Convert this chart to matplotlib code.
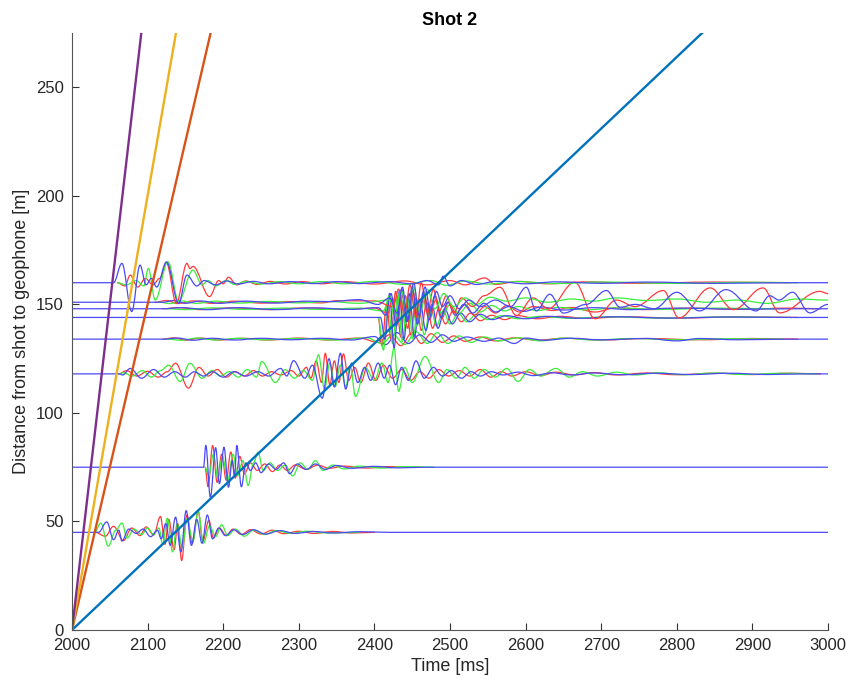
import matplotlib
matplotlib.use('Agg')
import matplotlib.pyplot as plt
from matplotlib.path import Path
from matplotlib.patches import PathPatch

plt.rcParams['font.family'] = ['Liberation Sans', 'DejaVu Sans']

# time window [ms] and geophone offsets [m]
t_start, t_end = 2000, 3000
levels = [45, 75, 118, 134, 144, 148, 151, 160]

# straight move-out lines, velocities in m/s
velocities = [330, 1500, 2000, 3000]
vel_colors = ['#0072BD', '#D95319', '#EDB120', '#7E2F8E']

# wiggle traces: (time [ms], deflection from trace offset [m]) at the turning points
w45_r = [(2031, 0), (2044, -1.8), (2055, 2.8), (2068, -3.8), (2079, 2.0), (2090, -1.5), (2098, 2.5), (2108, -1.2),
         (2117, 7.3), (2123, -5.5), (2128, 6), (2135, -8), (2140, 4), (2145, -13), (2152, 8), (2159, -5), (2167, 9.5),
         (2173, -4), (2181, 5.5), (2187, -2.5), (2195, 2), (2204, -1.5), (2213, 1.5), (2224, -1.0), (2236, 1.2),
         (2250, -0.8), (2265, 1.0), (2280, -0.6), (2300, 0.5), (2320, -0.5), (2345, 0.4), (2370, -0.3), (2400, 0)]
w45_g = [(2030, 0), (2038, 4.3), (2048, -6.4), (2058, 1), (2066, 4.3), (2073, -2.6), (2082, 1.5), (2092, -1),
         (2100, 2), (2108, -1), (2115, 2), (2120, -5.7), (2126, 6.5), (2133, -9), (2139, 4), (2146, -7), (2152, 6),
         (2160, -4), (2167, 9.7), (2174, -5), (2182, 3), (2190, -2), (2198, 3.5), (2206, -1.5), (2216, 1.5),
         (2228, -1.8), (2240, 1), (2255, -1), (2270, 0.8), (2290, -0.5), (2310, 0.5), (2340, -0.3), (2380, 0)]
w45_b = [(2035, 0), (2046, 4.8), (2055, -3.4), (2062, 1), (2066, -4), (2075, 1.5), (2085, -0.5), (2094, 1.5),
         (2104, -2), (2113, 1), (2118, -3), (2124, 4), (2130, -6), (2137, 7), (2144, -9), (2151, 10), (2158, -6),
         (2165, 6), (2172, -5), (2179, 8), (2186, -3), (2194, 2), (2203, -1.5), (2214, 1.2), (2226, -1), (2240, 1.2),
         (2256, -0.8), (2275, 0.8), (2295, -0.5), (2320, 0.4), (2345, -0.3), (2380, 0.3), (2420, 0)]

w75_r = [(2176, 0), (2180, -9), (2186, 10), (2192, -7), (2198, 6), (2204, -6), (2210, 7), (2216, -5), (2222, 5),
         (2228, -3), (2236, 2), (2245, -1.5), (2255, 1.5), (2265, -2), (2275, 1), (2285, -1.5), (2295, 1),
         (2310, -1), (2325, 1), (2340, -0.5), (2360, 0.5), (2390, -0.4), (2420, 0.3), (2460, 0)]
w75_g = [(2176, 0), (2181, -4), (2187, 6), (2193, -5), (2199, 5), (2206, -6), (2213, 6), (2219, -4), (2226, 3),
         (2233, -8.4), (2240, 2), (2246, 6.9), (2253, -1.5), (2262, 2), (2272, -1.5), (2282, 1), (2292, -4),
         (2302, 2), (2312, -1), (2322, 3), (2332, -1.5), (2345, 1), (2360, -0.8), (2380, 0.5), (2410, -0.4),
         (2440, 0.3), (2480, 0)]
w75_b = [(2174, 0), (2177, 10), (2183, -13.8), (2190, 9), (2195, -7.6), (2201, 9.2), (2207, -9.2), (2212, 3),
         (2215, -4), (2218, 10), (2224, -9), (2230, 2), (2236, -1.5), (2243, 2), (2250, -2.5), (2260, 1.5),
         (2270, -1), (2280, 2), (2288, -3), (2298, 1.5), (2310, -1), (2322, 1.5), (2335, -1), (2350, 0.8),
         (2370, -0.5), (2400, 0.4), (2430, -0.3), (2470, 0)]

w118_r = [(2062, 0), (2072, 1.5), (2086, -1), (2100, 1.2), (2114, -1.5), (2126, 1), (2137, 4.9), (2154, -6.6),
          (2168, 3), (2180, -1), (2192, 2), (2204, -1.5), (2216, 1), (2228, -1), (2240, 1.5), (2252, -1), (2264, 1),
          (2276, -0.5), (2290, 1.5), (2300, -1), (2310, 3), (2316, -2), (2323, 6), (2330, -4), (2335, 9.5),
          (2341, -5), (2347, 6), (2353, -4), (2359, 9.2), (2366, -3), (2374, 3), (2382, -4), (2392, 5), (2402, -3),
          (2412, 4), (2424, -2), (2436, 2), (2448, -3), (2460, 1), (2472, -2), (2485, 2), (2498, -1), (2512, 1.5),
          (2526, -1), (2540, 2), (2554, -1.5), (2568, 1), (2582, -1), (2600, 1), (2620, -0.8), (2640, 0.8),
          (2665, -0.5), (2690, 0.6), (2720, -0.5), (2760, 0.4), (2800, -0.4), (2850, 0.3), (2900, -0.3),
          (2950, 0.3), (2990, 0)]
w118_g = [(2062, 0), (2068, 0.5), (2080, -1), (2093, 1.5), (2105, -1.5), (2117, 1.5), (2128, 4), (2143, -3.5),
          (2156, 4.9), (2172, -2), (2185, 1.5), (2196, -1), (2208, 1), (2220, -1.5), (2232, 2), (2244, -1.5),
          (2251, 5.7), (2269, -4), (2282, 2), (2294, -2), (2306, 1.5), (2318, -3), (2326, 8.8), (2334, -7),
          (2341, 5), (2348, -6), (2355, 4), (2362, -6), (2368, 4), (2375, -10.4), (2388, 3), (2400, -3), (2410, 5),
          (2418, -4), (2426, 12), (2432, -8), (2440, 3), (2450, -4), (2467, 8), (2485, -4), (2496, 2), (2508, -2),
          (2520, 3), (2532, -2), (2545, 2), (2560, -1.5), (2575, 2.5), (2590, -3.5), (2605, 2), (2620, -1),
          (2640, 2.5), (2658, -1.5), (2675, 1), (2695, -1), (2720, 0.8), (2745, -0.5), (2775, 0.5), (2810, -0.4),
          (2850, 0.4), (2890, -0.3), (2940, 0.3), (2985, 0)]
w118_b = [(2062, 0), (2067, -0.5), (2077, 2.5), (2092, -2), (2108, 2), (2122, -1.5), (2136, 1), (2150, -1.5),
          (2162, 1), (2174, -1), (2186, 1), (2200, -1.5), (2214, 1), (2230, -1), (2246, 1), (2260, -1), (2276, 2.5),
          (2284, -1), (2293, 6.1), (2308, -2), (2318, 4), (2331, -11.2), (2340, 7), (2347, -6), (2355, 9.5),
          (2362, -7), (2370, 5), (2378, -4), (2387, 3), (2395, -3), (2405, 5), (2413, -2), (2420, 4), (2428, -5),
          (2436, 3), (2445, -3), (2455, 6), (2466, -2), (2478, 3), (2490, -1), (2502, 1.5), (2515, -2), (2528, 1),
          (2540, -1), (2555, 1), (2570, -0.5), (2590, 0.8), (2610, -0.8), (2635, 0.5), (2660, -0.5), (2690, 0.4),
          (2730, -0.4), (2770, 0.3), (2820, -0.3), (2870, 0.3), (2920, -0.3), (2970, 0)]

w134_r = [(2120, 0), (2135, 0.6), (2150, -0.5), (2170, 0.5), (2195, -0.4), (2225, 0.4), (2260, -0.4), (2300, 0.5),
          (2340, -0.4), (2380, 0.5), (2405, -1.5), (2420, 2), (2435, -3), (2450, 3), (2462, -2), (2475, 2.5),
          (2490, -1.5), (2505, 1.5), (2520, -1), (2540, 1), (2560, -0.8), (2585, 0.6), (2615, -0.5), (2650, 0.4),
          (2700, -0.4), (2760, 0.3), (2830, -0.3), (2900, 0.3), (2960, 0)]
w134_g = [(2125, 0), (2145, -0.5), (2165, 0.5), (2190, -0.4), (2220, 0.4), (2255, -0.3), (2300, 0.3), (2350, -0.4),
          (2390, 0.6), (2410, -2), (2425, 2), (2440, -2.5), (2455, 3.5), (2470, -2), (2483, 3), (2497, -2),
          (2512, 1.5), (2528, -1.5), (2545, 1), (2565, -0.8), (2590, 0.6), (2620, -0.8), (2650, 0.5), (2690, -0.4),
          (2740, 0.3), (2800, -0.3), (2870, 0.2), (2940, 0)]
w134_b = [(2120, 0), (2140, 0.5), (2160, -0.5), (2185, 0.4), (2215, -0.4), (2250, 0.4), (2290, -0.3), (2330, 0.4),
          (2370, -0.4), (2400, 1.2), (2415, -2.5), (2430, 3), (2445, -2), (2460, 2), (2475, -1.5), (2490, 2),
          (2505, -1), (2522, 1), (2545, -1), (2565, 0.5), (2585, -2), (2600, 0.5), (2625, -0.5), (2660, 0.4),
          (2700, -0.3), (2760, 0.3), (2800, -0.8), (2830, 0.3), (2880, -0.3), (2950, 0)]

w144_r = [(2405, 0), (2410, -13), (2416, 6), (2422, -10), (2428, 12), (2435, -9), (2441, 10), (2448, -8), (2455, 9),
          (2462, -6), (2469, 7), (2477, -5), (2485, 4), (2494, -3), (2504, 3), (2515, -2), (2527, 2), (2540, -1.5),
          (2555, 1), (2572, -1), (2590, 0.8), (2615, -0.6), (2645, 0.5), (2680, -0.4), (2730, 0.3), (2800, -0.3),
          (2880, 0.2), (2960, 0)]
w144_g = [(2405, 0), (2412, -15), (2418, 8), (2424, -12), (2431, 10), (2437, -11), (2444, 9), (2451, -10),
          (2458, 7), (2466, -8), (2474, 5), (2482, -4), (2491, 3), (2500, -3), (2511, 2), (2522, -2), (2535, 1.5),
          (2550, -1), (2568, 0.8), (2590, -0.6), (2620, 0.5), (2660, -0.4), (2710, 0.3), (2780, -0.3), (2860, 0.2),
          (2950, 0)]
w144_b = [(2408, 0), (2414, -10), (2420, 11), (2426, -14), (2433, 12), (2439, -10), (2446, 11), (2453, -9),
          (2460, 8), (2468, -6), (2476, 6), (2484, -5), (2493, 4), (2503, -3), (2514, 2), (2526, -2), (2540, 1.5),
          (2556, -1), (2575, 0.8), (2600, -0.6), (2630, 0.5), (2670, -0.4), (2720, 0.3), (2790, -0.3), (2870, 0.2),
          (2950, 0)]

w148_r = [(2120, 0), (2140, 0.5), (2170, -0.4), (2210, 0.4), (2260, -0.4), (2310, 0.4), (2360, -0.3), (2400, 0.3),
          (2418, -2), (2424, 5), (2430, -7), (2437, 6), (2444, -9), (2451, 8), (2458, -6), (2466, 7), (2473, -5),
          (2481, 4), (2490, -4), (2498, 3), (2508, -2), (2520, 2), (2532, -3), (2546, 1), (2560, -2), (2575, 1.5),
          (2592, -1.5), (2610, 1), (2635, -0.8), (2660, 0.6), (2692, -1.5), (2720, 0.5), (2760, -0.4), (2820, 0.3),
          (2880, -0.3), (2950, 0.3), (2990, 0)]
w148_g = [(2125, 0), (2150, -0.4), (2185, 0.4), (2230, -0.3), (2280, 0.3), (2330, -0.3), (2380, 0.3), (2412, -1),
          (2420, 6), (2427, -5), (2434, 8), (2441, -7), (2449, 6), (2456, -8), (2464, 5), (2472, -4), (2480, 6),
          (2490, -3), (2500, 2), (2512, -2), (2526, 2.5), (2540, -1.5), (2555, 1.5), (2572, -1), (2590, 1),
          (2615, -0.8), (2645, 0.6), (2680, -0.5), (2720, 0.4), (2780, -0.3), (2850, 0.3), (2930, 0)]
w148_b = [(2120, 0), (2145, 0.5), (2180, -0.4), (2220, 0.5), (2270, -0.4), (2320, 0.4), (2370, -0.3), (2405, 0.5),
          (2415, -3), (2422, 7), (2429, -8), (2436, 9), (2443, -6), (2450, 10), (2457, -7), (2465, 8), (2472, -5),
          (2480, 6), (2488, -4), (2497, 3), (2507, -3), (2518, 2), (2530, -2), (2545, 2.5), (2560, -1.5), (2578, 1),
          (2598, -1.2), (2620, 0.8), (2650, -0.6), (2690, 0.5), (2740, -0.4), (2800, 0.3), (2880, -0.2), (2960, 0)]

w151_r = [(2110, 0), (2125, 0.8), (2140, -0.6), (2160, 0.6), (2185, -0.5), (2215, 0.5), (2250, -0.4), (2290, 0.3),
          (2330, -0.3), (2350, 0.7), (2400, 0.6), (2425, -2), (2432, 6), (2440, -6), (2447, 8), (2455, -7),
          (2462, 9), (2470, -5), (2478, 6), (2486, -4), (2495, 3), (2505, -5), (2515, 2), (2530, -2), (2545, 3),
          (2566, 6.9), (2588, -6.1), (2610, 2), (2630, -3), (2665, 9.2), (2692, -7.6), (2720, 1), (2745, -2),
          (2782, 5.4), (2803, -7.2), (2844, 6.6), (2875, -3.4), (2914, 6.6), (2936, -4.9), (2989, 5), (3000, 4)]
w151_g = [(2115, 0), (2130, -0.6), (2145, 0.6), (2165, -0.5), (2190, 0.5), (2220, -0.4), (2260, 0.4), (2300, -0.3),
          (2340, 0.3), (2380, -0.5), (2420, 1), (2428, -4), (2436, 5), (2444, -6), (2452, 7), (2460, -5), (2470, 6),
          (2480, -3), (2492, 4), (2505, -2), (2520, 2), (2535, -1), (2553, 2.3), (2575, 0.5), (2600, 2),
          (2630, 0), (2660, 1.5), (2690, 0.5), (2720, 2), (2760, 0.8), (2800, 1.5), (2840, 0), (2880, 1),
          (2920, -0.5), (2960, 1.5), (3000, 1)]
w151_b = [(2120, 0), (2135, 0.8), (2150, -0.5), (2170, 0.6), (2195, -0.5), (2230, 0.5), (2270, -0.4), (2310, 0.5),
          (2340, 0.3), (2380, 1.2), (2405, -1), (2420, 2), (2430, -5), (2437, 7), (2444, -8), (2452, 9), (2459, -6),
          (2467, 7), (2474, -4), (2482, 5), (2490, -2), (2500, 3), (2512, -3), (2525, 1), (2540, -2), (2560, 1),
          (2580, -2), (2601, 6.9), (2614, -4), (2632, 3.7), (2650, -5), (2680, -1), (2707, 5.4), (2725, -2.3),
          (2745, -1), (2770, -3), (2800, 4.6), (2830, -4), (2865, 5.8), (2905, -4), (2923, 3), (2935, 1),
          (2953, 4.6), (2976, -4.9), (3000, -1)]

w160_r = [(2060, 0), (2070, -1.5), (2077, 3.5), (2087, -2), (2097, 2), (2107, -1), (2116, 2), (2125, 9),
          (2138, -9.5), (2152, 8.9), (2156, 6.5), (2160, 7.5), (2182, -6.4), (2194, 1), (2200, -0.5), (2207, 2.5),
          (2218, -1), (2230, 0.8), (2245, -0.8), (2262, 0.6), (2282, -0.6), (2305, 0.5), (2330, -0.5), (2360, 0.5),
          (2400, -0.6), (2440, 0.8), (2470, -1), (2500, 1), (2520, -1), (2546, 2.2), (2560, -0.8), (2590, 0.6),
          (2630, -0.5), (2680, 0.4), (2750, -0.3), (2850, 0.3), (2950, 0)]
w160_g = [(2060, 0), (2072, -1), (2085, 1), (2095, -1.5), (2101, 6.6), (2110, -8), (2127, 9.6), (2141, -8.5),
          (2160, 5.8), (2172, -1), (2180, 1), (2190, -1.5), (2204, 1), (2215, -0.8), (2230, 0.6), (2250, -0.6),
          (2275, 0.5), (2300, -0.5), (2330, 0.5), (2360, -0.5), (2400, 0.6), (2440, -0.8), (2475, 1), (2495, -1.2),
          (2520, 0.8), (2550, -0.6), (2590, 0.5), (2640, -0.4), (2700, 0.3), (2800, -0.3), (2900, 0.2), (2960, 0)]
w160_b = [(2055, 0), (2066, 8.9), (2079, -13.3), (2090, 8.1), (2098, -1), (2105, 2), (2112, -2), (2125, 9.6),
          (2141, -9.5), (2152, 3.5), (2165, -1.5), (2175, 1), (2190, -1), (2205, 0.8), (2220, -0.6), (2240, 0.6),
          (2260, -0.5), (2290, 0.5), (2320, -0.4), (2350, 0.5), (2380, -0.4), (2420, 0.5), (2450, -0.5), (2470, 1),
          (2485, -1), (2491, 3), (2500, -1.5), (2515, 1), (2535, -0.8), (2560, 0.6), (2600, -0.5), (2640, 0.4),
          (2700, -0.3), (2760, 0.3), (2850, -0.3), (2950, 0)]

traces = {
    45: (w45_r, w45_g, w45_b),
    75: (w75_r, w75_g, w75_b),
    118: (w118_r, w118_g, w118_b),
    134: (w134_r, w134_g, w134_b),
    144: (w144_r, w144_g, w144_b),
    148: (w148_r, w148_g, w148_b),
    151: (w151_r, w151_g, w151_b),
    160: (w160_r, w160_g, w160_b),
}
comp_colors = ['#ff3a3a', '#3aee3a', '#4a4af5']


def wiggle_path(level, pts, flat=True, k=0.36):
    # smooth half cycles between turning points; the blue trace on top also
    # carries the flat lead-in and tail that hide the others
    verts = [(pts[0][0], level + pts[0][1])]
    codes = [Path.MOVETO]
    if flat:
        verts.insert(0, (t_start, level))
        codes = [Path.MOVETO, Path.LINETO]
    for (ta, aa), (tb, ab) in zip(pts[:-1], pts[1:]):
        d = tb - ta
        verts += [(ta + k * d, level + aa), (tb - k * d, level + ab), (tb, level + ab)]
        codes += [Path.CURVE4] * 3
    if flat and pts[-1][0] < t_end:
        verts.append((t_end, level))
        codes.append(Path.LINETO)
    return Path(verts, codes)


fig = plt.figure(figsize=(8.51, 6.89), dpi=100)
ax = fig.add_axes([0.0846, 0.0856, 0.8884, 0.8664])

for lev in levels:
    for i, (pts, c) in enumerate(zip(traces[lev], comp_colors)):
        ax.add_patch(PathPatch(wiggle_path(lev, pts, flat=(i == 2)), fill=False, edgecolor=c,
                               lw=0.9, capstyle='round', joinstyle='round'))

for v, c in zip(velocities, vel_colors):
    ax.plot([t_start, t_end], [0, v * (t_end - t_start) / 1000.0], color=c, lw=1.7)

ax.set_xlim(t_start, t_end)
ax.set_ylim(0, 275)
ax.set_xticks(range(2000, 3001, 100))
ax.set_yticks(range(0, 251, 50))
for s in ['top', 'right']:
    ax.spines[s].set_visible(False)
for s in ['left', 'bottom']:
    ax.spines[s].set_color('#555555')
    ax.spines[s].set_linewidth(0.8)
ax.tick_params(direction='in', length=5, width=0.8, color='#333333', labelsize=12, labelcolor='#262626')
ax.tick_params(axis='x', pad=6)
ax.tick_params(axis='y', pad=6)
ax.set_xlabel('Time [ms]', fontsize=13, color='#262626', labelpad=3)
ax.set_ylabel('Distance from shot to geophone [m]', fontsize=13, color='#262626')
ax.set_title('Shot 2', fontsize=13, fontweight='bold')

fig.savefig('out.png', dpi=100)
